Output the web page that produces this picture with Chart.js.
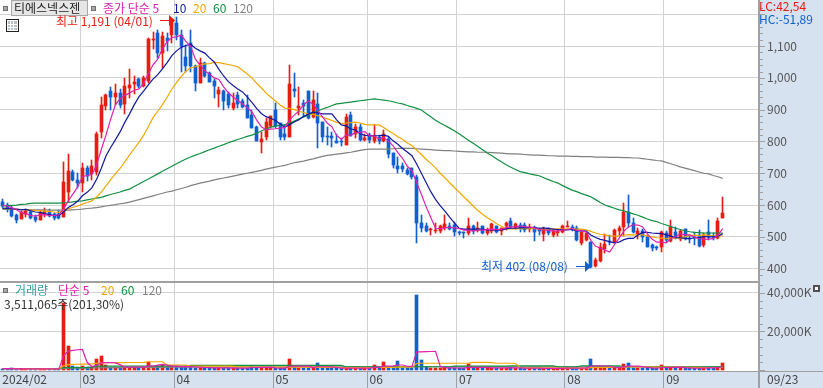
<!DOCTYPE html>
<html>
<head>
<meta charset="utf-8">
<title>티에스넥스젠</title>
<script src="https://cdn.jsdelivr.net/npm/chart.js@4"></script>
<style>
  html, body { margin: 0; padding: 0; background: #fff; overflow: hidden; }
  #wrap { position: relative; width: 823px; height: 388px; }
</style>
</head>
<body>
<div id="wrap"><canvas id="chart" width="823" height="388"></canvas></div>
<script>
// daily candles, 2024/02 .. 09/23
const opens = [
  610,600,591,568,556,572,578,563,553,574,
  577,572,573,562,642,704,678,669,718,698,
  705,831,912,960,939,953,917,969,982,998,
  975,990,1120,1141,1078,1124,1135,1173,1135,1067,
  1109,1037,985,1047,1014,991,949,960,949,904,
  946,927,915,883,846,799,815,849,899,857,
  823,815,965,905,920,959,876,918,861,818,
  817,801,800,790,883,823,846,805,820,802,
  813,801,807,763,723,723,710,715,689,542,
  534,521,519,518,527,534,537,515,515,513,
  535,521,534,511,518,535,519,534,550,529,
  537,537,524,527,521,509,527,506,511,514,
  532,531,529,479,490,483,408,424,462,487,
  481,518,532,579,544,508,518,500,474,468,
  467,511,488,514,493,524,495,500,506,474,
  514,502,497,559
];
const highs = [
  618,606,597,572,580,587,585,568,580,590,
  586,576,584,734,760,710,700,732,722,742,
  829,940,950,970,980,965,1000,1027,1007,1000,
  1005,1125,1145,1152,1145,1140,1185,1191,1150,1103,
  1150,1040,1062,1050,1018,995,972,962,957,952,
  957,932,946,899,849,831,874,880,921,858,
  852,1040,1014,970,930,959,959,953,861,846,
  831,823,810,886,894,855,855,823,826,852,
  820,836,815,764,750,732,716,717,694,569,
  543,527,543,537,569,543,547,518,515,558,
  537,546,534,527,543,535,528,548,558,544,
  543,543,540,535,527,532,529,524,521,537,
  550,537,535,516,511,485,433,480,508,505,
  524,534,605,632,558,527,524,506,477,472,
  519,518,553,532,521,524,506,516,521,511,
  553,511,558,626
];
const lows = [
  592,577,562,542,556,562,555,548,553,562,
  562,553,555,562,610,675,653,640,677,679,
  693,812,900,898,915,905,887,936,950,968,
  970,985,1090,1063,1031,1085,1110,1120,1020,1019,
  1019,960,984,1003,987,937,909,899,905,899,
  905,905,873,842,801,764,805,842,842,805,
  805,814,941,883,878,871,874,780,799,789,
  782,794,787,789,817,811,802,801,794,794,
  791,799,747,716,702,705,694,682,481,516,
  516,506,512,513,522,522,503,506,497,506,
  509,514,509,506,513,513,506,522,527,524,
  516,516,515,488,506,487,506,499,504,511,
  531,518,487,474,487,402,406,422,448,474,
  479,503,503,532,511,493,485,467,455,458,
  453,485,485,492,488,490,480,474,469,469,
  490,490,493,559
];
const closes = [
  598,586,565,553,577,581,559,553,576,580,
  567,560,560,671,706,680,669,718,691,723,
  823,915,946,941,952,914,974,977,988,974,
  1000,1121,1123,1077,1133,1116,1185,1134,1100,1037,
  1037,985,1046,1006,988,974,962,928,915,922,
  918,907,873,843,801,808,862,880,849,813,
  815,981,959,912,911,873,930,859,813,815,
  812,796,797,878,817,846,805,811,805,818,
  801,823,760,726,713,713,697,689,542,529,
  518,525,522,535,540,526,515,513,513,534,
  519,527,512,521,539,516,527,542,530,540,
  529,521,532,516,518,525,511,518,518,534,
  535,525,490,514,511,406,427,467,477,484,
  521,529,579,544,516,518,500,467,466,466,
  516,490,532,495,518,493,492,496,471,506,
  498,498,550,576
];

// moving average lines
const ma5 = [
  600,597,592,585,576,572,567,565,569,570,
  567,567,569,588,613,635,657,689,693,696,
  725,774,820,870,915,934,945,952,961,965,
  983,1012,1041,1059,1091,1114,1127,1129,1134,1114,
  1099,1059,1041,1022,1012,1000,995,972,953,940,
  929,918,907,893,868,846,837,839,840,842,
  844,868,883,896,916,927,917,897,877,858,
  846,819,807,820,820,827,829,831,817,817,
  808,812,801,786,765,747,722,708,671,634,
  595,561,527,526,528,530,528,526,521,520,
  519,521,521,523,524,523,523,529,531,531,
  534,532,530,528,523,522,520,518,518,521,
  523,526,520,520,515,489,470,465,458,452,
  475,496,518,531,538,537,531,509,493,483,
  483,481,494,500,510,506,506,499,494,492,
  493,494,505,526
];
const ma10 = [
  590,589,588,587,585,586,582,578,577,573,
  570,567,567,578,592,601,612,629,640,654,
  680,715,754,781,805,830,860,886,915,940,
  958,978,996,1010,1028,1048,1070,1085,1096,1102,
  1106,1093,1085,1078,1063,1050,1027,1006,988,976,
  965,956,940,923,904,888,878,873,866,855,
  845,853,861,868,879,886,892,890,887,887,
  887,868,852,849,839,836,824,819,818,818,
  818,820,816,802,791,778,767,755,729,700,
  671,642,618,598,581,562,544,527,524,524,
  524,524,524,522,522,521,522,525,527,527,
  528,528,529,530,527,528,526,524,523,522,
  522,523,519,519,518,506,498,492,489,484,
  482,483,491,495,495,506,514,514,512,511,
  510,506,502,497,497,495,494,497,497,501,
  500,500,502,510
];
const ma20 = [
  590,589,588,587,586,585,584,583,582,581,
  580,578,577,582,588,593,597,603,608,613,
  625,641,660,680,698,715,736,757,777,797,
  819,846,875,895,916,939,965,985,1005,1021,
  1032,1035,1040,1044,1045,1049,1048,1045,1042,1039,
  1035,1024,1012,1000,983,969,952,940,927,915,
  905,904,900,895,891,887,885,881,876,871,
  866,860,856,858,859,861,858,854,852,852,
  852,844,834,825,815,807,795,787,773,759,
  744,731,717,700,686,670,655,641,626,612,
  597,583,571,560,551,541,533,526,525,525,
  526,526,526,526,524,524,524,524,525,524,
  525,525,524,524,522,517,512,508,506,503,
  502,503,505,507,506,506,506,503,500,497,
  496,494,496,496,496,500,504,505,504,506,
  505,503,502,503
];
const ma60 = [
  597,598,599,600,602,603,605,606,606,606,
  606,606,606,607,608,610,612,613,616,619,
  622,624,629,633,637,641,646,650,658,666,
  674,682,690,698,706,714,722,730,738,745,
  751,757,762,768,774,779,785,790,796,801,
  806,811,816,820,826,833,839,845,848,851,
  853,857,864,871,877,883,890,896,902,907,
  913,918,920,922,924,926,928,930,932,934,
  932,930,928,925,921,918,913,909,904,899,
  888,878,867,858,850,842,834,824,814,804,
  794,784,774,764,755,745,736,727,719,712,
  705,702,698,695,692,686,680,674,669,661,
  654,647,642,636,631,626,617,608,600,595,
  590,585,582,577,572,568,562,556,551,548,
  542,537,532,527,523,519,516,514,513,512,
  512,512,512,512
];
const ma120 = [
  586,586,586,586,586,586,585,585,585,585,
  584,584,584,584,584,585,586,587,589,590,
  592,594,597,599,601,604,606,609,613,617,
  621,625,629,633,637,641,644,648,652,656,
  661,665,669,672,675,679,682,685,688,691,
  694,697,700,703,706,709,713,716,719,722,
  725,729,733,736,738,742,745,749,753,756,
  758,760,762,764,766,769,772,774,776,776,
  776,776,776,777,778,779,778,778,777,776,
  775,774,773,772,771,771,770,769,768,767,
  767,766,766,766,765,764,763,762,761,761,
  760,759,758,757,757,756,755,755,754,754,
  754,753,753,752,752,752,751,751,751,750,
  750,750,749,749,748,748,746,744,742,740,
  739,734,730,725,720,716,712,708,704,700,
  698,693,689,684
];

// volume in K shares
const volumes = [
  700,600,800,600,700,500,600,500,700,600,
  500,600,600,34500,12600,2000,1800,2300,1500,1600,
  5700,7250,2800,1500,1600,1400,1800,1200,1500,1400,
  1600,4300,1800,2300,2500,1400,1900,1800,1700,2000,
  1500,1300,1200,1100,1000,1100,1000,1200,900,1000,
  900,1000,1000,2200,1100,1300,1000,1000,1000,900,
  1100,5700,1500,1200,1000,1300,1200,3450,1200,1000,
  1000,900,800,1300,1000,900,1000,1000,1100,2600,
  1000,4150,1300,1700,4650,1100,1000,1100,38860,5200,
  1500,1300,1000,1100,1200,1000,1200,900,900,3100,
  1200,1100,1000,1000,1300,1000,900,1200,1400,1000,
  1000,900,1000,1000,800,900,800,900,900,1000,
  1000,900,1100,1100,1000,5700,1500,1300,1200,1000,
  1300,1200,3100,3600,1300,1000,1000,1100,900,800,
  2600,1100,1400,1000,1200,1100,800,900,1000,1200,
  1200,900,1500,3511
];
const vma5 = [
  700,700,700,650,700,650,650,600,600,600,
  600,600,600,7400,9800,10200,10500,10640,4000,1800,
  2500,3700,3800,3900,3700,2800,1500,1500,1500,1500,
  1500,2000,2100,2500,2900,2500,2000,2000,1800,1800,
  1800,1700,1500,1300,1200,1100,1100,1100,1100,1000,
  1000,1000,1000,1300,1300,1400,1400,1500,1100,1000,
  1000,1900,2000,2000,2000,2000,1300,1700,1700,1700,
  1600,1300,1000,1000,1000,1000,1000,1000,1000,1400,
  1400,2000,2000,2200,2600,2600,1950,1900,9400,9450,
  9530,9600,9700,2000,1200,1100,1100,1050,1000,1400,
  1400,1400,1400,1400,1100,1100,1100,1100,1200,1100,
  1100,1000,1000,1000,1000,900,900,900,900,900,
  1000,1000,1000,1000,1000,2000,2100,2200,2100,2100,
  1300,1200,1600,2000,2000,2000,1800,1400,1100,1000,
  1300,1300,1400,1400,1500,1200,1100,1000,1000,1000,
  1100,1100,1200,1800
];
const vma20 = [
  700,700,700,700,700,650,650,650,650,650,
  650,650,650,2200,2800,2900,3000,3100,3100,3200,
  3400,3600,3800,3800,3800,3800,3800,3900,3900,3900,
  4000,4300,4300,4300,4300,2600,2600,2600,2600,2600,
  2000,2000,2000,2000,2000,2000,2000,2000,2000,2000,
  1600,1600,1500,1500,1500,1500,1500,1500,1500,1500,
  1500,1500,1500,1500,1500,1500,1400,1400,1400,1400,
  1500,1500,1300,1200,1200,1200,1200,1200,1200,1300,
  1300,1400,1400,1400,1500,1600,1600,1600,3400,3500,
  3500,3500,3500,3500,3500,3500,3500,3500,3500,3600,
  4000,4000,4000,4000,3800,3500,3500,3500,3500,3400,
  1300,1100,1100,1100,1100,1100,1100,1100,1000,1000,
  1000,1000,1000,1000,1000,1200,1300,1300,1300,1300,
  1300,1300,1500,1600,1600,1600,1600,1600,1500,1500,
  1500,1500,1500,1500,1500,1400,1400,1400,1400,1300,
  1300,1300,1300,1400
];
const vma60 = [
  800,800,800,800,800,800,800,800,800,800,
  800,800,800,1200,1200,1200,1200,1200,1200,1500,
  2000,2000,2000,2000,2000,2000,2000,2000,2000,2000,
  2000,2000,2000,2000,2000,2000,2000,2000,2000,2000,
  2400,2400,2400,2400,2400,2400,2400,2400,2400,2400,
  2400,2400,2400,2400,2400,2400,2400,2400,2400,2400,
  2400,2400,2400,2400,2400,2400,2400,2400,2400,2400,
  2400,2400,2400,1700,1700,1700,1700,1700,1700,1700,
  1700,1700,1700,1700,1700,1700,1700,1700,1700,1700,
  1700,1700,1700,1700,1700,1700,2000,2000,2000,2000,
  2000,2000,2000,2000,2000,2000,2000,2000,2200,2200,
  2200,2200,2200,2200,2200,2200,2200,2200,1600,1600,
  1600,1600,1600,2200,2200,2200,2200,2200,2200,2200,
  2200,2200,1700,1700,1700,1700,1700,1700,1700,1700,
  1700,1700,1700,1700,1700,1700,1700,1700,1700,1700,
  1700,1700,1700,1700
];
const vma120 = [
  700,700,700,700,700,700,700,700,700,700,
  700,700,700,900,1000,1000,1000,1000,1000,1100,
  1100,1100,1200,1200,1200,1200,1300,1300,1300,1300,
  1400,1400,1400,1400,1400,1500,1500,1500,1500,1500,
  1500,1500,1500,1500,1500,1500,1500,1500,1500,1500,
  1600,1600,1600,1600,1600,1600,1600,1600,1600,1600,
  1600,1600,1600,1600,1600,1600,1600,1600,1600,1600,
  1600,1600,1600,1600,1600,1600,1600,1600,1600,1600,
  1600,1600,1600,1600,1600,1600,1600,1600,1700,1700,
  1700,1700,1700,1700,1700,1700,1700,1700,1700,1700,
  1700,1700,1700,1700,1700,1700,1700,1700,1700,1700,
  1700,1700,1700,1700,1700,1700,1700,1700,1700,1700,
  1700,1700,1700,1700,1700,1700,1700,1700,1700,1700,
  1700,1700,1700,1700,1700,1700,1700,1700,1700,1700,
  1700,1700,1700,1700,1700,1700,1700,1700,1700,1700,
  1700,1700,1700,1700
];

// axis tick values, labels only on the big ones
const priceTicks = [380,400,420,440,460,480,500,520,540,560,580,600,620,640,660,680,700,720,740,760,780,800,820,840,860,880,900,920,940,960,980,1000,1020,1040,1060,1080,1100,1120,1140,1160,1180,1200,1220,1240];
const volumeTicks = [0,4000,8000,12000,16000,20000,24000,28000,32000,36000,40000,44000];

// month labels sit on the first trading day of each month
const monthIdx = [0, 17, 37, 58, 78, 97, 120, 141];
const monthLabels = ["2024/02", "03", "04", "05", "06", "07", "08", "09"];

const RED = "#e81c10";
const BLUE = "#1060d0";
const C_MA5 = "#e020b0";
const C_MA10 = "#1018a0";
const C_MA20 = "#f0a800";
const C_MA60 = "#109040";
const C_MA120 = "#808080";
const PANEL = "#d6e2f0";
const GRID = "#d2d2d2";
const EDGE = "#a0a0a0";
const TXT = '12px "Noto Sans CJK KR"';

const slots = 161; // 154 bars plus empty room on the right
const labels = Array.from({ length: slots }, (_, i) => i);
const candleColors = opens.map((o, i) => (closes[i] >= o ? RED : BLUE));

function lineSet(data, color, axis, order) {
  return { type: "line", data, yAxisID: axis, borderColor: color, borderWidth: 1.2, pointRadius: 0, order };
}

// snap bars onto whole pixels, the reference has no soft edges
const snapBars = {
  id: "snapBars",
  afterDatasetsUpdate(chart) {
    chart.data.datasets.forEach((ds, i) => {
      if (ds.type !== "bar") return;
      chart.getDatasetMeta(i).data.forEach(bar => {
        const top = Math.round(Math.min(bar.y, bar.base));
        let bottom = Math.round(Math.max(bar.y, bar.base));
        if (bottom <= top) bottom = top + 1;
        bar.x = Math.floor(bar.x) + 0.5;
        bar.y = top;
        bar.base = bottom;
      });
    });
  }
};

function text(ctx, str, x, y, color) {
  ctx.fillStyle = color;
  ctx.fillText(str, x, y);
}

function arrow(ctx, x0, tip, y, color) {
  ctx.strokeStyle = color;
  ctx.fillStyle = color;
  ctx.lineWidth = 1;
  ctx.beginPath();
  ctx.moveTo(x0, y + 0.5);
  ctx.lineTo(tip - 4, y + 0.5);
  ctx.stroke();
  ctx.beginPath();
  ctx.moveTo(tip - 6, y - 5);
  ctx.lineTo(tip, y + 0.5);
  ctx.lineTo(tip - 6, y + 6);
  ctx.fill();
}

function square(ctx, x, y) {
  ctx.fillStyle = "#a8a8a8";
  ctx.fillRect(x, y, 5, 5);
  ctx.strokeStyle = "#707070";
  ctx.strokeRect(x + 0.5, y + 0.5, 4, 4);
}

// blue panels behind the axes
const panels = {
  id: "panels",
  beforeDraw(chart) {
    const { ctx, chartArea: a } = chart;
    ctx.save();
    ctx.fillStyle = PANEL;
    ctx.fillRect(a.right, 0, 823 - a.right, 388);
    ctx.fillRect(0, a.bottom, 823, 388 - a.bottom);
    ctx.restore();
  }
};

// header, legends, high/low notes and axis edges
const overlay = {
  id: "overlay",
  afterDraw(chart) {
    const { ctx, chartArea: a, scales } = chart;
    ctx.save();
    ctx.textBaseline = "middle";
    ctx.textAlign = "left";

    // axis edges and tick marks
    ctx.fillStyle = EDGE;
    ctx.fillRect(0, scales.y.bottom, a.right, 2);
    ctx.fillRect(0, a.bottom, 823, 1);
    ctx.fillRect(a.right, 0, 2, 388);
    [[scales.y, 100], [scales.y2, 20000]].forEach(([s, major]) => {
      s.ticks.forEach(t => {
        const y = Math.round(s.getPixelForValue(t.value));
        ctx.fillRect(a.right, y, t.value % major === 0 ? 7 : 5, 1);
      });
    });
    const half = (a.right - a.left) / slots / 2;
    monthIdx.slice(1).forEach(i => {
      ctx.fillRect(Math.floor(scales.x.getPixelForValue(i) - half), a.bottom, 1, 388 - a.bottom);
    });

    ctx.font = TXT;

    // name button and legend of the price panel
    square(ctx, 3, 6);
    ctx.fillStyle = "#e6e6e6";
    ctx.fillRect(11, 0, 77, 16);
    ctx.strokeStyle = "#a8a8a8";
    ctx.strokeRect(11.5, 0.5, 76, 15);
    text(ctx, "티에스넥스젠", 14, 8, "#222");
    square(ctx, 91, 6);
    text(ctx, "종가 단순 5", 103, 8, C_MA5);
    text(ctx, "10", 173, 8, C_MA10);
    text(ctx, "20", 193, 8, C_MA20);
    text(ctx, "60", 213, 8, C_MA60);
    text(ctx, "120", 233, 8, C_MA120);

    // table icon
    ctx.strokeStyle = "#222";
    ctx.strokeRect(6.5, 19.5, 12, 12);
    ctx.fillStyle = "#b8c0c8";
    ctx.fillRect(8, 21, 9, 9);
    ctx.fillStyle = "#fff";
    [10, 13].forEach(x => ctx.fillRect(x, 21, 1, 9));
    [24, 27].forEach(y => ctx.fillRect(8, y, 9, 1));

    // right side readouts
    text(ctx, "LC:42,54", 759, 6, RED);
    text(ctx, "HC:-51,89", 759, 19, BLUE);

    // highest and lowest close notes
    const hiY = Math.round(scales.y.getPixelForValue(1185)) + 1;
    text(ctx, "최고 1,191 (04/01)", 56, 21, RED);
    arrow(ctx, 160, 175, hiY, RED);
    text(ctx, "최저 402 (08/08)", 481, 266, BLUE);
    arrow(ctx, 576, 591, 266, BLUE);

    // volume legend
    square(ctx, 3, 288);
    text(ctx, "거래량", 15, 290, "#30a0a0");
    text(ctx, "단순 5", 58, 290, C_MA5);
    text(ctx, "20", 101, 290, C_MA20);
    text(ctx, "60", 121, 290, C_MA60);
    text(ctx, "120", 142, 290, C_MA120);
    text(ctx, "3,511,065주(201,30%)", 4, 304, "#333");

    // small box in the volume panel corner
    ctx.fillStyle = "#505050";
    ctx.fillRect(813, 285, 7, 7);
    ctx.fillStyle = "#fff";
    ctx.fillRect(815, 287, 3, 3);

    // last date
    text(ctx, "09/23", 767, 379, "#444");
    ctx.restore();
  }
};

const datasets = [
  lineSet(ma5, C_MA5, "y", 1),
  lineSet(ma10, C_MA10, "y", 2),
  lineSet(ma20, C_MA20, "y", 3),
  lineSet(ma60, C_MA60, "y", 4),
  lineSet(ma120, C_MA120, "y", 5),
  // body over wick
  {
    type: "bar", yAxisID: "y", order: 6, grouped: false, barThickness: 3,
    data: opens.map((o, i) => [o, closes[i]]), backgroundColor: candleColors
  },
  {
    type: "bar", yAxisID: "y", order: 7, grouped: false, barThickness: 1,
    data: lows.map((l, i) => [l, highs[i]]), backgroundColor: candleColors
  },
  lineSet(vma5, C_MA5, "y2", 1),
  lineSet(vma20, C_MA20, "y2", 2),
  lineSet(vma60, C_MA60, "y2", 3),
  lineSet(vma120, C_MA120, "y2", 4),
  {
    type: "bar", yAxisID: "y2", order: 5, grouped: false, barThickness: 3,
    data: volumes, backgroundColor: candleColors
  }
];

new Chart(document.getElementById("chart"), {
  data: { labels, datasets },
  plugins: [panels, snapBars, overlay],
  options: {
    responsive: false,
    animation: false,
    layout: { padding: 0 },
    plugins: { legend: { display: false }, tooltip: { enabled: false } },
    scales: {
      x: {
        type: "category",
        offset: true,
        afterFit: s => { s.height = 17; s.paddingLeft = 0; s.paddingRight = 0; },
        border: { display: false },
        grid: {
          offset: true,
          drawTicks: false,
          color: c => (monthIdx.includes(c.index) && c.index > 0 ? GRID : "transparent")
        },
        ticks: {
          autoSkip: false,
          maxRotation: 0,
          align: "start",
          padding: 1,
          color: "#444",
          font: { family: "Noto Sans CJK KR", size: 12 },
          callback: (v, i) => {
            const m = monthIdx.indexOf(i);
            return m >= 0 ? monthLabels[m] : "";
          }
        }
      },
      y: {
        position: "right",
        stack: "panes",
        stackWeight: 281,
        min: 361,
        max: 1245,
        afterBuildTicks: s => { s.ticks = priceTicks.map(value => ({ value })); },
        afterFit: s => { s.width = 65; s.paddingTop = 0; s.paddingBottom = 0; },
        border: { display: false },
        grid: {
          drawTicks: false,
          color: c => (c.tick && c.tick.value % 100 === 0 ? GRID : "transparent")
        },
        ticks: {
          autoSkip: false,
          padding: 9,
          color: "#555",
          font: { family: "Noto Sans CJK KR", size: 12 },
          callback: v => (v % 100 === 0 && v <= 1100 ? v.toLocaleString("en-US") : "")
        }
      },
      y2: {
        position: "right",
        stack: "panes",
        stackWeight: 90,
        min: -500,
        max: 46100,
        afterBuildTicks: s => { s.ticks = volumeTicks.map(value => ({ value })); },
        afterFit: s => { s.width = 65; s.paddingTop = 0; s.paddingBottom = 0; },
        border: { display: false },
        grid: {
          drawTicks: false,
          color: c => (c.tick && c.tick.value % 20000 === 0 && c.tick.value > 0 ? GRID : "transparent")
        },
        ticks: {
          autoSkip: false,
          padding: 9,
          color: "#555",
          font: { family: "Noto Sans CJK KR", size: 12 },
          callback: v => (v > 0 && v % 20000 === 0 ? v.toLocaleString("en-US") + "K" : "")
        }
      }
    }
  }
});
</script>
</body>
</html>
